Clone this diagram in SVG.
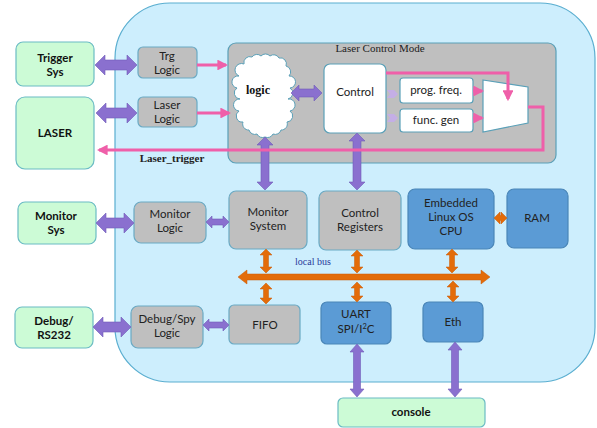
<svg xmlns="http://www.w3.org/2000/svg" width="597" height="428" viewBox="0 0 597 428">
<defs>
<style>
.green{fill:#ccfbd6;stroke:#6bbcc4;stroke-width:1.2}
.gray{fill:#bfbfbf;stroke:#6aaac4;stroke-width:1.2}
.blue{fill:#5b9bd5;stroke:#4a86b8;stroke-width:1.2}
.white{fill:#ffffff;stroke:#5aa0b8;stroke-width:1.2}
.t{font-family:Lato,"Open Sans",sans-serif;font-size:11.5px;fill:#222;text-anchor:middle}
.tb{font-family:Lato,"Open Sans",sans-serif;font-size:11.5px;font-weight:bold;fill:#111;text-anchor:middle}
.ts{font-family:"Liberation Serif",serif;text-anchor:middle}
.pa{fill:#8a70cf;stroke:#6f5cb8;stroke-width:0.6}
.oa{fill:#e36c0a;stroke:#c85a08;stroke-width:0.5}
.pk{fill:none;stroke:#ef5fa9;stroke-width:3}
</style>
<marker id="ph" viewBox="0 0 10 10" refX="8" refY="5" markerWidth="3.6" markerHeight="3.6" orient="auto" markerUnits="strokeWidth">
<path d="M0,0 L10,5 L0,10 z" fill="#ef5fa9"/>
</marker>
</defs>
<rect x="115" y="3" width="480" height="379" rx="55" ry="55" fill="#cdeefd" stroke="#5aaed0" stroke-width="1.2"/>
<g id="lcm">
<rect x="228" y="43" width="328" height="120" rx="8" fill="#bfbfbf" stroke="#5aa0b8" stroke-width="1.2"/>
<text class="ts" x="380" y="52" font-size="11" fill="#222">Laser Control Mode</text>
</g>
<g id="trigger-sys"><rect class="green" x="16" y="42" width="78" height="44" rx="7"/><text class="tb" x="55" y="62">Trigger</text><text class="tb" x="55" y="76">Sys</text></g>
<g id="laser"><rect class="green" x="16" y="97" width="78" height="72" rx="9"/><text class="tb" x="55" y="137">LASER</text></g>
<g id="monitor-sys"><rect class="green" x="18" y="202" width="78" height="42" rx="7"/><text class="tb" x="56" y="220">Monitor</text><text class="tb" x="56" y="234">Sys</text></g>
<g id="debug-rs232"><rect class="green" x="15" y="307" width="78" height="41" rx="7"/><text class="tb" x="54" y="325">Debug/</text><text class="tb" x="54" y="339">RS232</text></g>
<g id="console"><rect class="green" x="338" y="398" width="147" height="29" rx="5"/><text class="tb" x="411" y="416">console</text></g>
<g id="trg-logic"><rect class="gray" x="138" y="47" width="59" height="31" rx="5"/><text class="t" x="167" y="60">Trg</text><text class="t" x="167" y="74">Logic</text></g>
<g id="laser-logic"><rect class="gray" x="138" y="97" width="59" height="30" rx="5"/><text class="t" x="167" y="109">Laser</text><text class="t" x="167" y="123">Logic</text></g>
<g id="monitor-logic"><rect class="gray" x="134" y="202" width="72" height="41" rx="7"/><text class="t" x="170" y="218">Monitor</text><text class="t" x="170" y="232">Logic</text></g>
<g id="monitor-system"><rect class="gray" x="229" y="191" width="78" height="58" rx="7"/><text class="t" x="268" y="216">Monitor</text><text class="t" x="268" y="230">System</text></g>
<g id="control-registers"><rect class="gray" x="319" y="191" width="82" height="59" rx="7"/><text class="t" x="360" y="217">Control</text><text class="t" x="360" y="231">Registers</text></g>
<g id="cpu"><rect class="blue" x="408" y="189" width="86" height="60" rx="7"/><text class="t" x="451" y="207">Embedded</text><text class="t" x="451" y="221">Linux OS</text><text class="t" x="451" y="235">CPU</text></g>
<g id="ram"><rect class="blue" x="507" y="189" width="61" height="59" rx="7"/><text class="t" x="537" y="222">RAM</text></g>
<g id="fifo"><rect class="gray" x="229" y="305" width="71" height="39" rx="5"/><text class="t" x="265" y="329">FIFO</text></g>
<g id="uart"><rect class="blue" x="321" y="302" width="70" height="42" rx="6"/><text class="t" x="356" y="318">UART</text><text class="t" x="356" y="333">SPI/I<tspan font-size="7.5" dy="-4">2</tspan><tspan dy="4">C</tspan></text></g>
<g id="eth"><rect class="blue" x="423" y="302" width="60" height="40" rx="6"/><text class="t" x="453" y="326">Eth</text></g>
<g id="debug-spy-logic"><rect class="gray" x="131" y="306" width="72" height="42" rx="7"/><text class="t" x="167" y="323">Debug/Spy</text><text class="t" x="167" y="337">Logic</text></g>
<g id="logic-cloud">
<path d="M244,64 A6,6 0 0 1 252,57 A6,6 0 0 1 261,56 A6,6 0 0 1 270,56 A6,6 0 0 1 279,58 A6,6 0 0 1 286,66 A6,6 0 0 1 289,76 A6,6 0 0 1 290,88 A6,6 0 0 1 288,99 A6,6 0 0 1 290,111 A6,6 0 0 1 287,122 A6,6 0 0 1 281,130 A6,6 0 0 1 273,134 A6,6 0 0 1 265,137 A6,6 0 0 1 257,134 A6,6 0 0 1 249,130 A6,6 0 0 1 243,122 A6,6 0 0 1 239,111 A6,6 0 0 1 240,99 A6,6 0 0 1 237,88 A6,6 0 0 1 239,76 A6,6 0 0 1 244,64 Z" fill="#ffffff" stroke="#5aa0b8" stroke-width="1"/>
<text class="ts" x="258" y="94" font-size="12" font-weight="bold" fill="#111">logic</text>
</g>
<g id="control"><rect class="white" x="324" y="64" width="62" height="69" rx="6"/><text class="t" x="355" y="96">Control</text></g>
<g id="prog-freq"><rect class="white" x="400" y="78" width="73" height="25" rx="3"/><text class="t" x="436" y="94">prog. freq.</text></g>
<g id="func-gen"><rect class="white" x="400" y="109" width="73" height="23" rx="3"/><text class="t" x="436" y="124">func. gen</text></g>
<g id="mux"><polygon points="483,80 528,87 528,123 483,132" fill="#ffffff" stroke="#5aa0b8" stroke-width="1.2"/></g>
<g id="connectors">
<polygon class="pa" points="95,65 105,55 105,60 127,60 127,55 137,65 127,75 127,70 105,70 105,75"/>
<polygon class="pa" points="96,113 106,103 106,108 127,108 127,103 137,113 127,123 127,118 106,118 106,123"/>
<polygon class="pa" points="96,223 106,213 106,218 124,218 124,213 134,223 124,233 124,228 106,228 106,233"/>
<polygon class="pa" points="206,222 212,216 212,219 223,219 223,216 229,222 223,228 223,225 212,225 212,228"/>
<polygon class="pa" points="93,327 103,317 103,322 121,322 121,317 131,327 121,337 121,332 103,332 103,337"/>
<polygon class="pa" points="203,325 209,319 209,322 223,322 223,319 229,325 223,331 223,328 209,328 209,331"/>
<polygon class="pa" points="291,93 299,85 299,89 314,89 314,85 322,93 314,101 314,97 299,97 299,101"/>
<polygon class="pa" points="265,137 273,145 269,145 269,182 273,182 265,190 257,182 261,182 261,145 257,145"/>
<polygon class="pa" points="357,133 365,141 361,141 361,182 365,182 357,190 349,182 353,182 353,141 349,141"/>
<polygon class="pa" points="357,344 364,352 360.5,352 360.5,389 364,389 357,397 350,389 353.5,389 353.5,352 350,352"/>
<polygon class="pa" points="455,342 462,350 458.5,350 458.5,389 462,389 455,397 448,389 451.5,389 451.5,350 448,350"/>
<polygon points="387,90 394,90 398,94 394,98 387,98 390,94" fill="#c4aee6"/>
<polygon points="387,114 394,114 398,118 394,122 387,122 390,118" fill="#c4aee6"/>
<polygon class="oa" points="238,277 247,270 247,274 481,274 481,270 490,277 481,284 481,280 247,280 247,284"/>
<polygon class="oa" points="266,249 272,255 268.5,255 268.5,267 272,267 266,273 260,267 263.5,267 263.5,255 260,255"/>
<polygon class="oa" points="266,283 272,289 268.5,289 268.5,298 272,298 266,304 260,298 263.5,298 263.5,289 260,289"/>
<polygon class="oa" points="357,250 363,256 359.5,256 359.5,267 363,267 357,273 351,267 354.5,267 354.5,256 351,256"/>
<polygon class="oa" points="357,282 363,288 359.5,288 359.5,296 363,296 357,302 351,296 354.5,296 354.5,288 351,288"/>
<polygon class="oa" points="452,249 458,255 454.5,255 454.5,267 458,267 452,273 446,267 449.5,267 449.5,255 446,255"/>
<polygon class="oa" points="453,281 459,287 455.5,287 455.5,296 459,296 453,302 447,296 450.5,296 450.5,287 447,287"/>
<polygon class="oa" points="494,218 500,212 500,215.5 501,215.5 501,212 507,218 501,224 501,220.5 500,220.5 500,224"/>
<path class="pk" d="M197,65 H226" marker-end="url(#ph)"/>
<path class="pk" d="M197,113 H229" marker-end="url(#ph)"/>
<path class="pk" d="M386,73 H508 V99" marker-end="url(#ph)"/>
<path class="pk" d="M473,91 H482" marker-end="url(#ph)" stroke-width="2.5"/>
<path class="pk" d="M473,118 H482" marker-end="url(#ph)" stroke-width="2.5"/>
<path class="pk" d="M528,107 H543 V150 H99" marker-end="url(#ph)"/>
</g>
<text class="ts" x="172" y="162" font-size="11" font-weight="bold" fill="#222">Laser_trigger</text>
<text class="ts" x="313" y="265" font-size="10" fill="#2a3a9a">local bus</text>
</svg>
